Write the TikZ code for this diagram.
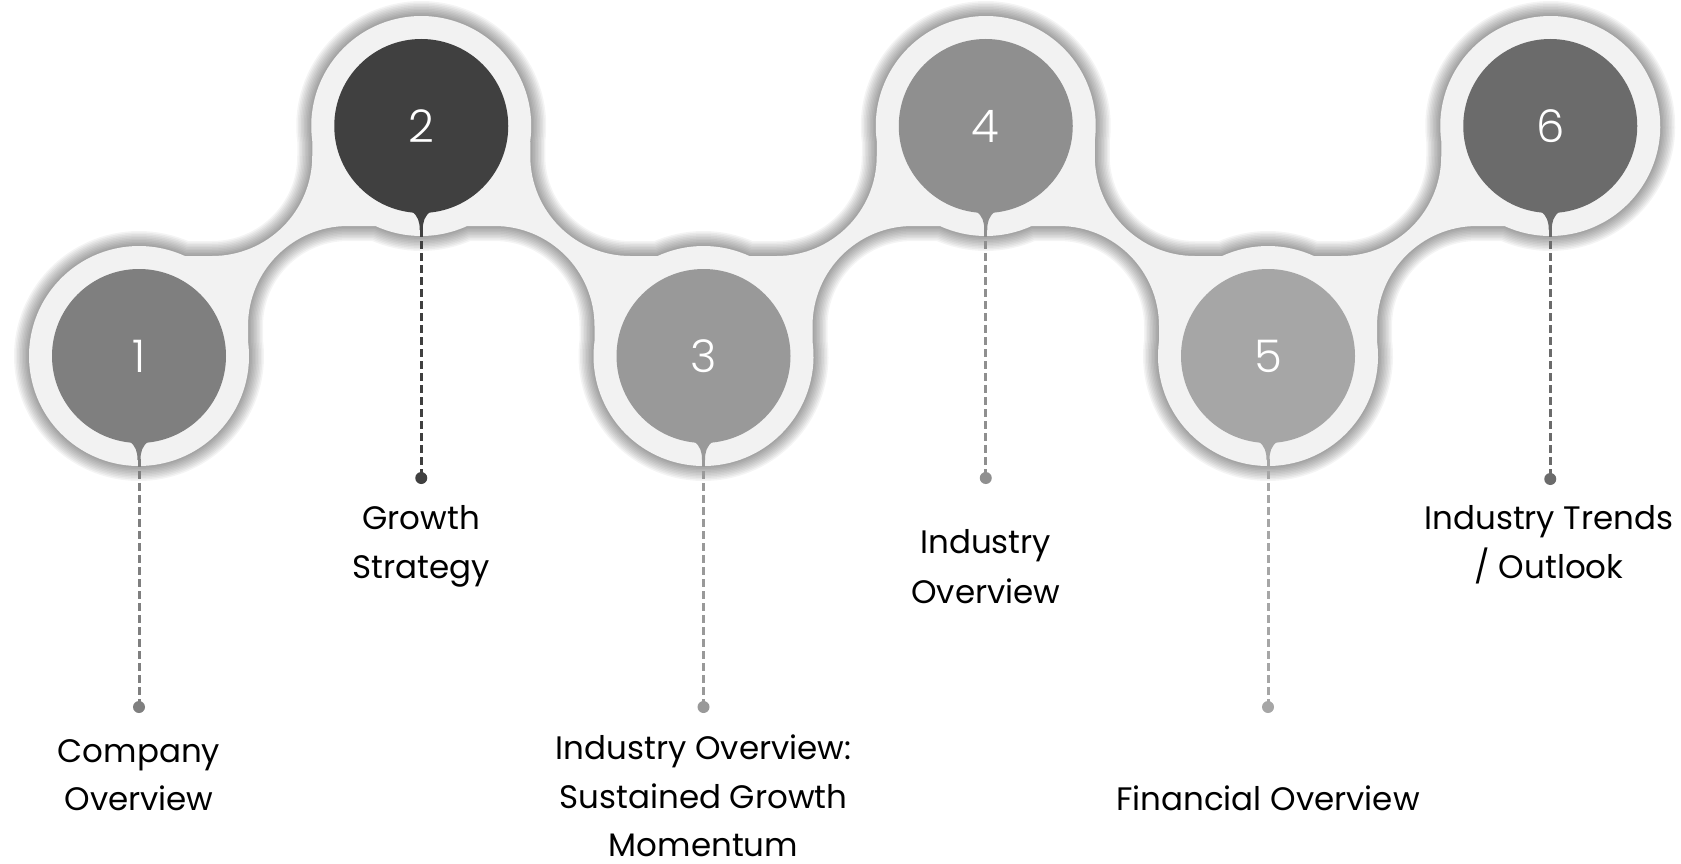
\documentclass[tikz,border=0pt]{standalone}
\usepackage{fontspec}
\setmainfont{Poppins}
\newfontfamily\numfont{Poppins}[UprightFont=* Light]
\definecolor{bandc}{HTML}{F2F2F2}
\definecolor{cA}{HTML}{7F7F7F}
\definecolor{cB}{HTML}{404040}
\definecolor{cC}{HTML}{999999}
\definecolor{cD}{HTML}{8F8F8F}
\definecolor{cE}{HTML}{A6A6A6}
\definecolor{cF}{HTML}{6B6B6B}
\tikzset{
  inner/.style={circle, minimum size=174pt, inner sep=0pt, text=white, font=\numfont\fontsize{45}{45}\selectfont},
  dashline/.style={line width=3pt, dash pattern=on 8pt off 4pt},
  enddot/.style={circle, minimum size=12pt, inner sep=0pt},
  lbl/.style={anchor=base, inner sep=0pt, text depth=0pt, font=\fontsize{32.5}{40}\selectfont, text=black},
  glow/.style={black, opacity=0.045, line join=round},
}
% outline of the light band (rings joined by concave connectors)
\newcommand{\bandoutline}{%
  (93.17,256) arc[start angle=-114.62, end angle=-65.38, radius=110]
  -- (212.25,256) arc[start angle=90, end angle=0, radius=100]
  -- (312.25,140.8) arc[start angle=172.27, end angle=367.73, radius=110]
  -- (530.25,156) arc[start angle=180, end angle=90, radius=100]
  -- (657.67,256) arc[start angle=-114.62, end angle=-65.38, radius=110]
  -- (776.75,256) arc[start angle=90, end angle=0, radius=100]
  -- (876.75,140.8) arc[start angle=172.27, end angle=367.73, radius=110]
  -- (1094.75,156) arc[start angle=180, end angle=90, radius=100]
  -- (1222.17,256) arc[start angle=-114.62, end angle=-65.38, radius=110]
  -- (1341.25,256) arc[start angle=90, end angle=0, radius=100]
  -- (1441.25,140.8) arc[start angle=172.27, end angle=474.62, radius=110]
  -- (1477,226) arc[start angle=270, end angle=180, radius=100]
  -- (1377,341.2) arc[start angle=-7.73, end angle=187.73, radius=110]
  -- (1159,326) arc[start angle=0, end angle=-90, radius=100]
  -- (1031.58,226) arc[start angle=65.38, end angle=114.62, radius=110]
  -- (912.5,226) arc[start angle=-90, end angle=-180, radius=100]
  -- (812.5,341.2) arc[start angle=-7.73, end angle=187.73, radius=110]
  -- (594.5,326) arc[start angle=0, end angle=-90, radius=100]
  -- (467.08,226) arc[start angle=65.38, end angle=114.62, radius=110]
  -- (348,226) arc[start angle=-90, end angle=-180, radius=100]
  -- (248,341.2) arc[start angle=-7.73, end angle=245.38, radius=110]
  -- cycle}
\newcommand{\pointer}[3]{%
  \fill[#3, shift={(#1,#2)}] (-10,85) .. controls (-3,90) and (-1.5,96) .. (-1.5,104)
    -- (1.5,104) .. controls (1.5,96) and (3,90) .. (10,85) -- cycle;}
\begin{document}
\begin{tikzpicture}[x=1pt,y=-1pt]
\useasboundingbox (0,0) rectangle (1681,864);
% centres
\coordinate (p1) at (139,356);
\coordinate (p2) at (421.25,126);
\coordinate (p3) at (703.5,356);
\coordinate (p4) at (985.75,126);
\coordinate (p5) at (1268,356);
\coordinate (p6) at (1550.25,126);
% soft shadow round the band
\foreach \w in {3,6,...,30}{
  \draw[glow, line width=\w pt] \bandoutline;
}
% band
\fill[bandc] \bandoutline;
% pointers
\pointer{139}{356}{cA}
\pointer{421.25}{126}{cB}
\pointer{703.5}{356}{cC}
\pointer{985.75}{126}{cD}
\pointer{1268}{356}{cE}
\pointer{1550.25}{126}{cF}
% circles
\node[inner, fill=cA] (c1) at (p1) {1};
\node[inner, fill=cB] (c2) at (p2) {2};
\node[inner, fill=cC] (c3) at (p3) {3};
\node[inner, fill=cD] (c4) at (p4) {4};
\node[inner, fill=cE] (c5) at (p5) {5};
\node[inner, fill=cF] (c6) at (p6) {6};
% pointer tips
\coordinate (t1) at (139,459);
\coordinate (t2) at (421.25,229);
\coordinate (t3) at (703.5,459);
\coordinate (t4) at (985.75,229);
\coordinate (t5) at (1268,459);
\coordinate (t6) at (1550.25,229);
% end dots
\node[enddot, fill=cA] (d1) at (139,707) {};
\node[enddot, fill=cB] (d2) at (421.25,478) {};
\node[enddot, fill=cC] (d3) at (703.5,707) {};
\node[enddot, fill=cD] (d4) at (985.75,478) {};
\node[enddot, fill=cE] (d5) at (1268,707) {};
\node[enddot, fill=cF] (d6) at (1550.25,479) {};
% dashed leaders
\draw[dashline, cA] (t1) -- (d1.center);
\draw[dashline, cB] (t2) -- (d2.center);
\draw[dashline, cC] (t3) -- (d3.center);
\draw[dashline, cD] (t4) -- (d4.center);
\draw[dashline, cE] (t5) -- (d5.center);
\draw[dashline, cF] (t6) -- (d6.center);
% labels
\node[lbl] (l1a) at (139,762) {Company};
\node[lbl] (l1b) at (139,810) {Overview};
\node[lbl] (l2a) at (421.25,529.5) {Growth};
\node[lbl] (l2b) at (421.25,578.5) {Strategy};
\node[lbl] (l3a) at (703.5,759) {Industry Overview:};
\node[lbl] (l3b) at (703.5,808) {Sustained Growth};
\node[lbl] (l3c) at (703.5,856) {Momentum};
\node[lbl] (l4a) at (985.75,553) {Industry};
\node[lbl] (l4b) at (985.75,603) {Overview};
\node[lbl] (l5a) at (1268,810) {Financial Overview};
\node[lbl] (l6a) at (1549,529.5) {Industry Trends};
\node[lbl] (l6b) at (1549,578.5) {/ Outlook};
\end{tikzpicture}
\end{document}
